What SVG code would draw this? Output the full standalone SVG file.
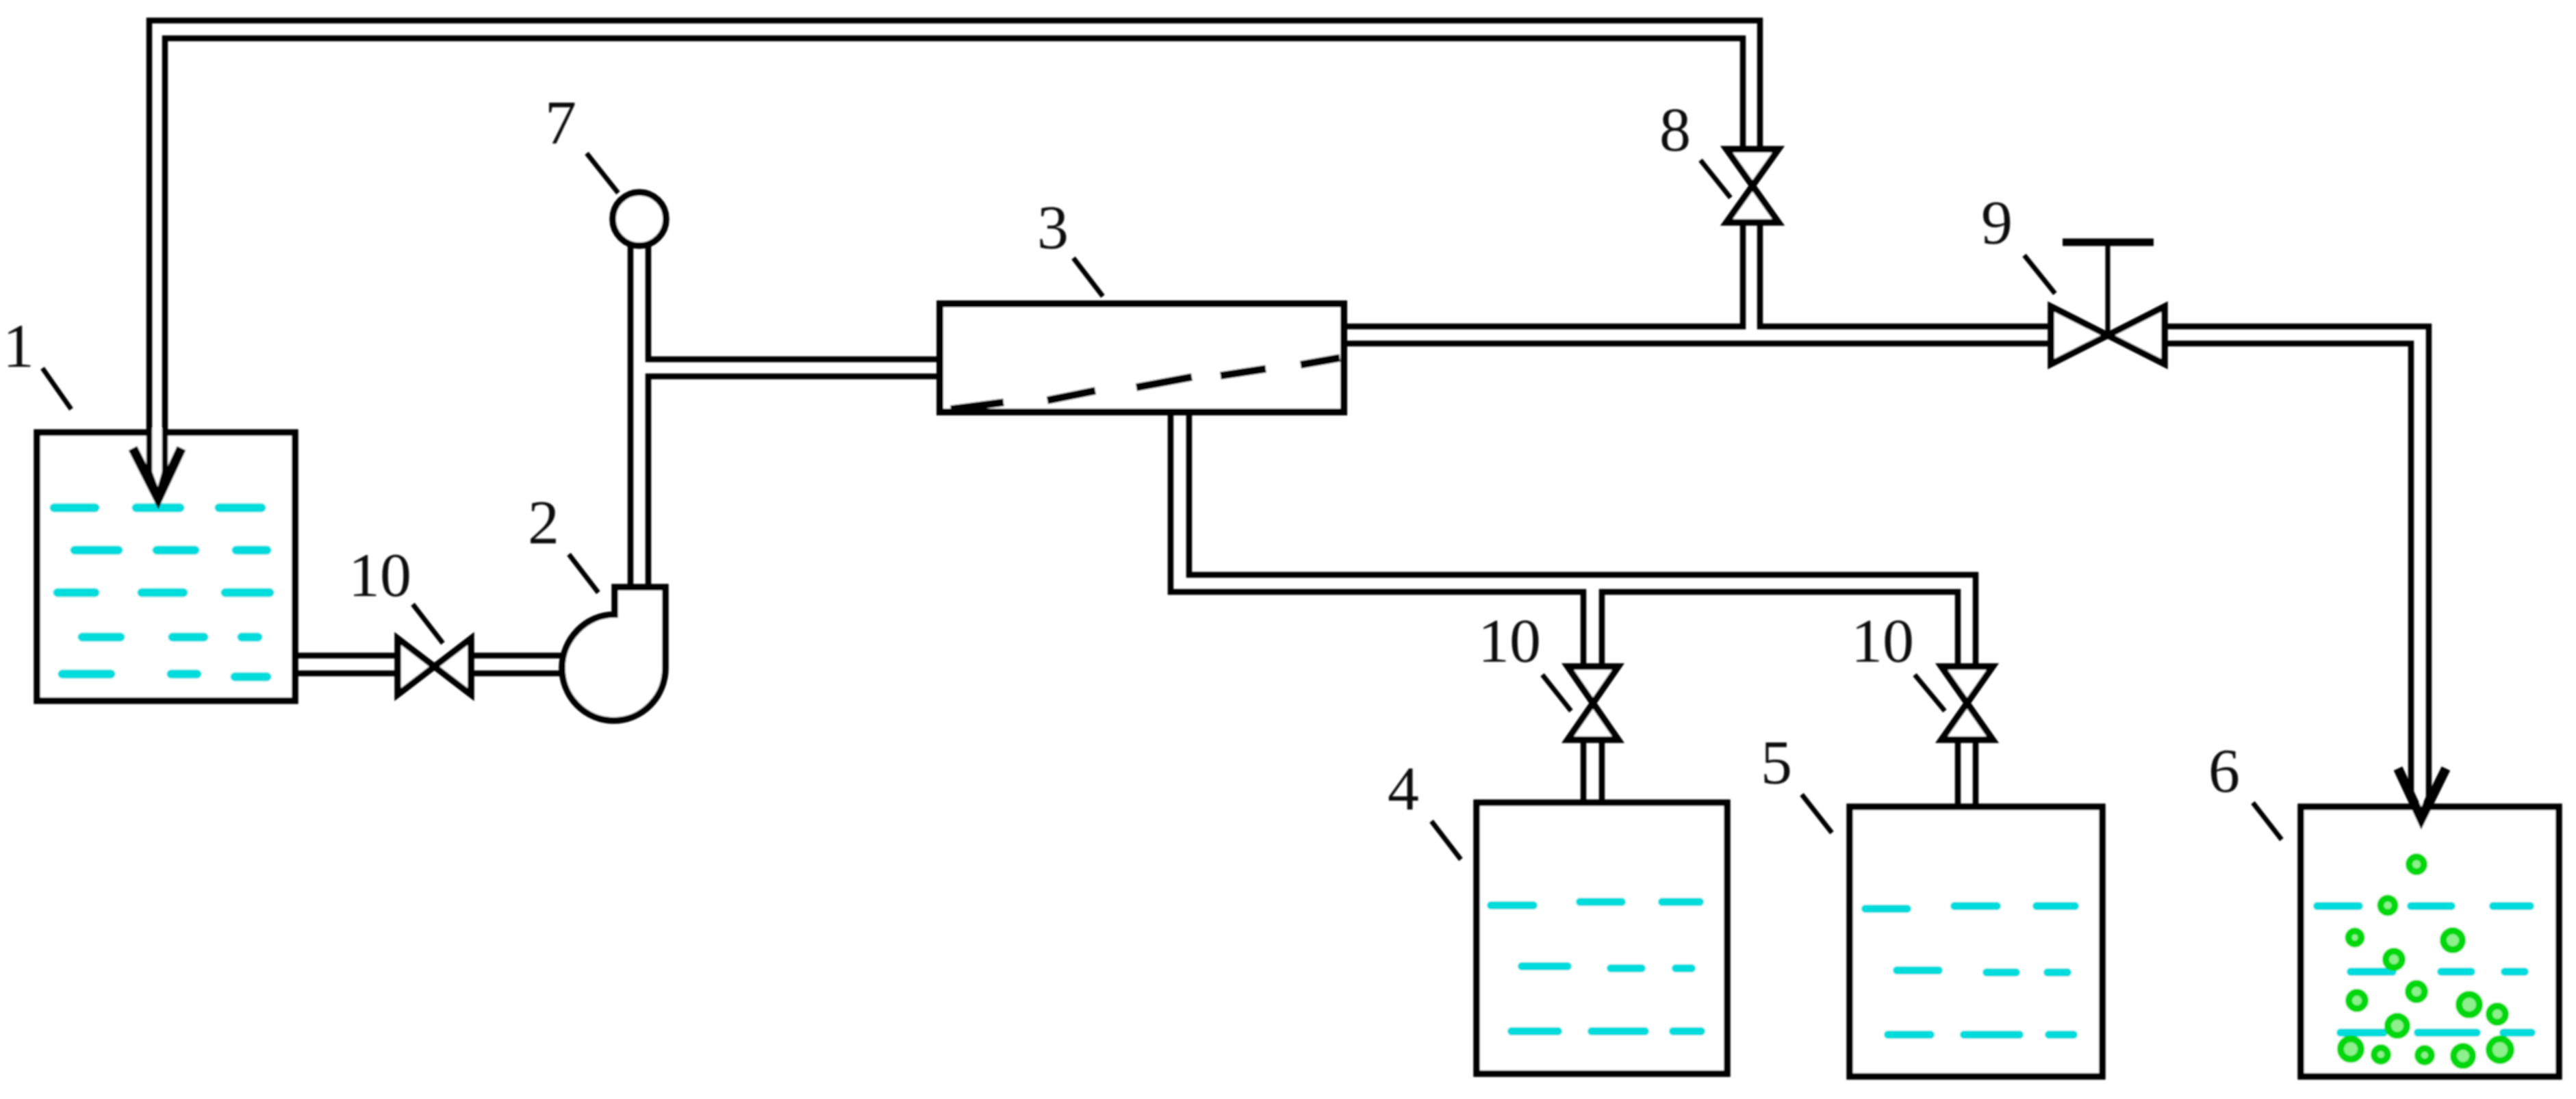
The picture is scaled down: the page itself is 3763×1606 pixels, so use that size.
<svg xmlns="http://www.w3.org/2000/svg" width="3763" height="1606" viewBox="0 0 3763 1606">
<defs>
<filter id="soft" filterUnits="userSpaceOnUse" x="0" y="0" width="3763" height="1606"><feGaussianBlur stdDeviation="1"/></filter>
</defs>
<style>
.s{fill:none;stroke:#000;stroke-width:8.5;stroke-linejoin:miter;stroke-linecap:butt}
.t{fill:#fff;stroke:#000;stroke-width:9.5}
.l{fill:none;stroke:#000;stroke-width:7}
.v{fill:#fff;stroke:#000;stroke-width:9.5;stroke-linejoin:miter}
.c{stroke:#00dcdc;stroke-width:13;stroke-linecap:round;fill:none}
.g{fill:#8df08d;stroke:#00d810;stroke-width:10}
.m{stroke:#000;stroke-width:11;fill:none}
.a{fill:none;stroke:#000;stroke-width:14;stroke-linejoin:miter}
text{font-family:"Liberation Serif","Times New Roman",serif;font-size:92px;fill:#111;text-anchor:middle}
</style>
<rect width="3763" height="1606" fill="#fff"/>
<g filter="url(#soft)">
<g id="tank-1">
<rect class="t" x="54" y="632" width="377" height="392"/>
<path class="c" d="M79,742H139M199,742H263M320,742H382M109,804H173M229,804H285M345,804H390M84,866H139M207,866H268M329,866H394M120,931H176M252,931H298M353,931H377M91,985H162M250,985H288M343,989H390"/>
</g>
<g id="pump-2">
<path class="t" d="M898,898V858H972V976A75.500,77 0 0 1 821,976C821,935 855,898 898,898Z"/>
</g>
<g id="membrane-3">
<rect class="t" x="1373" y="444" width="590" height="158" style="stroke-width:10"/>
<path class="m" d="M1389,598L1466,588M1530,585L1600,571M1660,566L1741,551M1783,549L1849,539M1900,533L1957,523"/>
</g>
<g id="tank-4">
<rect class="t" x="2157" y="1173" width="366" height="396"/>
<path class="c" style="stroke-width:12" d="M2178,1323H2240M2308,1318H2369M2428,1318H2483M2223,1412H2290M2353,1415H2398M2448,1415H2471M2208,1507H2276M2325,1507H2403M2444,1507H2485"/>
</g>
<g id="tank-5">
<rect class="t" x="2702" y="1179" width="369" height="394"/>
<path class="c" style="stroke-width:12" d="M2725,1328H2786M2855,1324H2917M2975,1324H3031M2771,1418H2832M2902,1421H2945M2991,1421H3020M2758,1512H2820M2869,1512H2950M2993,1512H3029"/>
</g>
<g id="tank-6">
<rect class="t" x="3361" y="1179" width="377" height="394"/>
<path class="c" style="stroke-width:12" d="M3385,1324H3446M3522,1324H3581M3642,1324H3696M3434,1420H3495M3566,1420H3610M3659,1420H3688M3419,1509H3482M3532,1509H3618M3657,1509H3698"/>
<circle class="g" cx="3530" cy="1263" r="11"/>
<circle class="g" cx="3488" cy="1323" r="10.500"/>
<circle class="g" cx="3440" cy="1370" r="9.500"/>
<circle class="g" cx="3583" cy="1374" r="14"/>
<circle class="g" cx="3497" cy="1402" r="12"/>
<circle class="g" cx="3443" cy="1462" r="12"/>
<circle class="g" cx="3530" cy="1449" r="12"/>
<circle class="g" cx="3607" cy="1468" r="15"/>
<circle class="g" cx="3648" cy="1482" r="12"/>
<circle class="g" cx="3502" cy="1499" r="14"/>
<circle class="g" cx="3434" cy="1533" r="15"/>
<circle class="g" cx="3478" cy="1541" r="10"/>
<circle class="g" cx="3542" cy="1542" r="10"/>
<circle class="g" cx="3598" cy="1543" r="14"/>
<circle class="g" cx="3652" cy="1534" r="16"/>
</g>
<g id="connectors">
<rect x="222" y="626" width="15" height="12" fill="#fff"/>
<rect x="3526" y="1173" width="21" height="12" fill="#fff"/>
<path class="s" d="M218,700V30H2571V218"/>
<path class="s" d="M241,700V56H2546V218"/>
<path class="a" d="M194,655L231,728L265,655"/>
<path class="s" d="M218,690L231,725L241,690"/>
<path class="s" d="M435,958H581M435,984H581M688,958H821M688,984H821"/>
<path class="s" d="M921,858V360M947,858V550H1369M947,360V525H1369"/>
<path class="s" d="M1967,477H2546V325M2571,325V477H2996"/>
<path class="s" d="M1967,502H2996"/>
<path class="s" d="M3162,477H3548V1165L3537,1190"/>
<path class="s" d="M3162,502H3522V1165L3537,1190"/>
<path class="a" d="M3503,1123L3537,1196L3573,1123"/>
<path class="s" d="M1710,606V865H2313V974M1737,606V840H2886V974M2340,974V865H2860V974"/>
<path class="s" d="M2313,1081V1173M2340,1081V1173M2860,1081V1179M2886,1081V1179"/>
</g>
<g id="valve-8"><path class="v" d="M2522,218H2598L2522,325H2598Z"/></g>
<g id="valve-9">
<path class="v" d="M2996,448V532L3162,448V532Z"/>
<path class="l" d="M3079,490V354"/>
<path class="s" style="stroke-width:11" d="M3013,354H3146"/>
</g>
<g id="valve-10a"><path class="v" d="M581,933V1015L688,933V1015Z"/></g>
<g id="valve-10b"><path class="v" d="M2290,974H2364L2290,1081H2364Z"/></g>
<g id="valve-10c"><path class="v" d="M2836,974H2911L2836,1081H2911Z"/></g>
<g id="gauge-7"><circle class="t" cx="934" cy="320" r="39"/></g>
<g id="labels">
<path class="l" d="M62,538L104,598M603,883L647,940M831,810L874,866M857,224L903,282M1568,377L1611,433M2484,234L2528,289M2957,373L3002,429M2253,986L2295,1039M2797,986L2841,1039M2091,1200L2134,1256M2632,1161L2676,1217M3291,1173L3333,1227"/>
<text x="27" y="536">1</text>
<text x="555" y="871">10</text>
<text x="794" y="794">2</text>
<text x="819" y="210">7</text>
<text x="1538" y="363">3</text>
<text x="2447" y="220">8</text>
<text x="2917" y="356">9</text>
<text x="2205" y="967">10</text>
<text x="2750" y="967">10</text>
<text x="2050" y="1183">4</text>
<text x="2595" y="1145">5</text>
<text x="3249" y="1157">6</text>
</g>
</g>
</svg>
